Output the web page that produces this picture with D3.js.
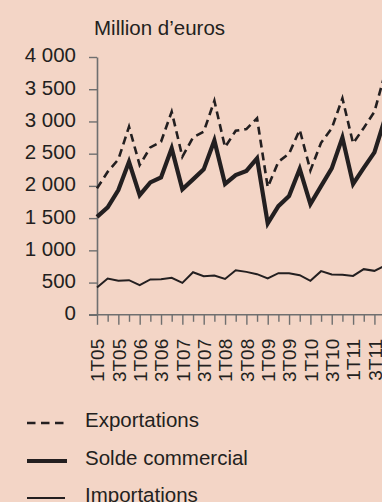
<!DOCTYPE html>
<html>
<head>
<meta charset="utf-8">
<script src="https://cdn.jsdelivr.net/npm/d3@7"></script>
<style>
  html, body { margin: 0; padding: 0; background: #f3d5c6; }
  svg { display: block; font-family: "Liberation Sans", Arial, sans-serif; }
</style>
</head>
<body>
<svg id="chart" width="382" height="502"></svg>
<script>
// ---- Data ----
const quarters = [
  "1T05","2T05","3T05","4T05",
  "1T06","2T06","3T06","4T06",
  "1T07","2T07","3T07","4T07",
  "1T08","2T08","3T08","4T08",
  "1T09","2T09","3T09","4T09",
  "1T10","2T10","3T10","4T10",
  "1T11","2T11","3T11","4T11"
];
const exportations = [
  1961, 2219, 2411, 2918,
  2323, 2598, 2685, 3151,
  2452, 2753, 2840, 3320,
  2600, 2856, 2882, 3050,
  1980, 2374, 2500, 2870,
  2240, 2669, 2893, 3360,
  2660, 2900, 3150, 3750
];
const soldeCommercial = [
  1520, 1666, 1935, 2374,
  1857, 2054, 2132, 2582,
  1946, 2101, 2256, 2705,
  2030, 2168, 2232, 2427,
  1418, 1686, 1842, 2264,
  1717, 1997, 2272, 2750,
  2030, 2280, 2520, 3050
];
const importations = [
  424, 563, 527, 537,
  460, 548, 553, 573,
  495, 661, 599, 610,
  557, 692, 666, 630,
  563, 646, 646, 615,
  527, 677, 626, 620,
  604, 708, 682, 762
];
const yTicks = [0, 500, 1000, 1500, 2000, 2500, 3000, 3500, 4000];
const labelledQuarters = ["1T05","3T05","1T06","3T06","1T07","3T07","1T08","3T08","1T09","3T09","1T10","3T10","1T11","3T11"];
const titleText = "Million d\u2019euros";
const legendItems = [
  { name: "Exportations", key: "exp" },
  { name: "Solde commercial", key: "solde" },
  { name: "Importations", key: "imp" }
];

// ---- Layout ----
const W = 382, H = 502;
const ink = "#231f20", axisCol = "#6f6f6f";
const styles = {
  exp:   { width: 2.6, dash: "8,5" },
  solde: { width: 4.2, dash: null },
  imp:   { width: 2.0, dash: null }
};
const svg = d3.select("#chart");

const x = d3.scalePoint().domain(quarters).range([97, 97 + 27 * 10.67]);
const y = d3.scaleLinear().domain([0, 4000]).range([314.8, 57]);

const fr = d3.formatLocale({ decimal: ",", thousands: "\u00a0", grouping: [3], currency: ["", " €"] });
const fmt = fr.format(",");

// Title
svg.append("text")
  .attr("x", 94).attr("y", 35)
  .attr("font-size", 20.5).attr("fill", ink)
  .text(titleText);

// Y axis
const gy = svg.append("g").attr("transform", "translate(97,0)")
  .call(d3.axisLeft(y).tickValues(yTicks).tickFormat(fmt).tickSize(8).tickSizeOuter(0).tickPadding(13));
gy.select(".domain").attr("stroke", axisCol).attr("stroke-width", 1.6);
gy.selectAll(".tick line").attr("stroke", axisCol).attr("stroke-width", 1.4);
gy.selectAll(".tick text").attr("font-size", 20.5).attr("fill", ink)
  .attr("font-family", "Liberation Sans, Arial, sans-serif").attr("dy", "0.24em");

// X axis
const yBase = y(0);
const gx = svg.append("g").attr("transform", `translate(0,${yBase})`)
  .call(d3.axisBottom(x).tickSize(10).tickSizeOuter(0).tickPadding(0).tickFormat(d => labelledQuarters.includes(d) ? d : ""));
gx.select(".domain").remove();
svg.append("line")
  .attr("x1", 89).attr("x2", W).attr("y1", yBase).attr("y2", yBase)
  .attr("stroke", axisCol).attr("stroke-width", 1.6);
gx.selectAll(".tick line")
  .attr("stroke", axisCol).attr("stroke-width", 1.4)
  .attr("y2", d => labelledQuarters.includes(d) ? 10 : 7);
gx.selectAll(".tick text")
  .attr("font-size", 19).attr("fill", ink)
  .attr("font-family", "Liberation Sans, Arial, sans-serif")
  .attr("transform", "rotate(-90)")
  .attr("text-anchor", "end")
  .attr("x", -24).attr("y", 0).attr("dy", "0.36em");

// Lines
const seriesData = { exp: exportations, solde: soldeCommercial, imp: importations };
const line = d3.line().x(d => x(d.q)).y(d => y(d.v));
["imp", "solde", "exp"].forEach(k => {
  const data = quarters.map((q, i) => ({ q, v: seriesData[k][i] }));
  const p = svg.append("path").datum(data)
    .attr("d", line).attr("fill", "none")
    .attr("stroke", ink).attr("stroke-width", styles[k].width)
    .attr("stroke-linejoin", "miter").attr("stroke-miterlimit", 10);
  if (styles[k].dash) p.attr("stroke-dasharray", styles[k].dash);
});

// Legend
const legendLineY = [423, 461, 498];
const legend = svg.append("g");
legendItems.forEach((it, i) => {
  const g = legend.append("g");
  const ly = legendLineY[i];
  const l = g.append("line")
    .attr("x1", 27).attr("x2", it.key === "imp" ? 65 : 67)
    .attr("y1", ly).attr("y2", ly)
    .attr("stroke", ink).attr("stroke-width", styles[it.key].width);
  if (it.key === "exp") l.attr("stroke-dasharray", "8.5,5.5");
  g.append("text")
    .attr("x", 85).attr("y", ly + 3.5)
    .attr("font-size", 20.5).attr("fill", ink)
    .text(it.name);
});
</script>
</body>
</html>
